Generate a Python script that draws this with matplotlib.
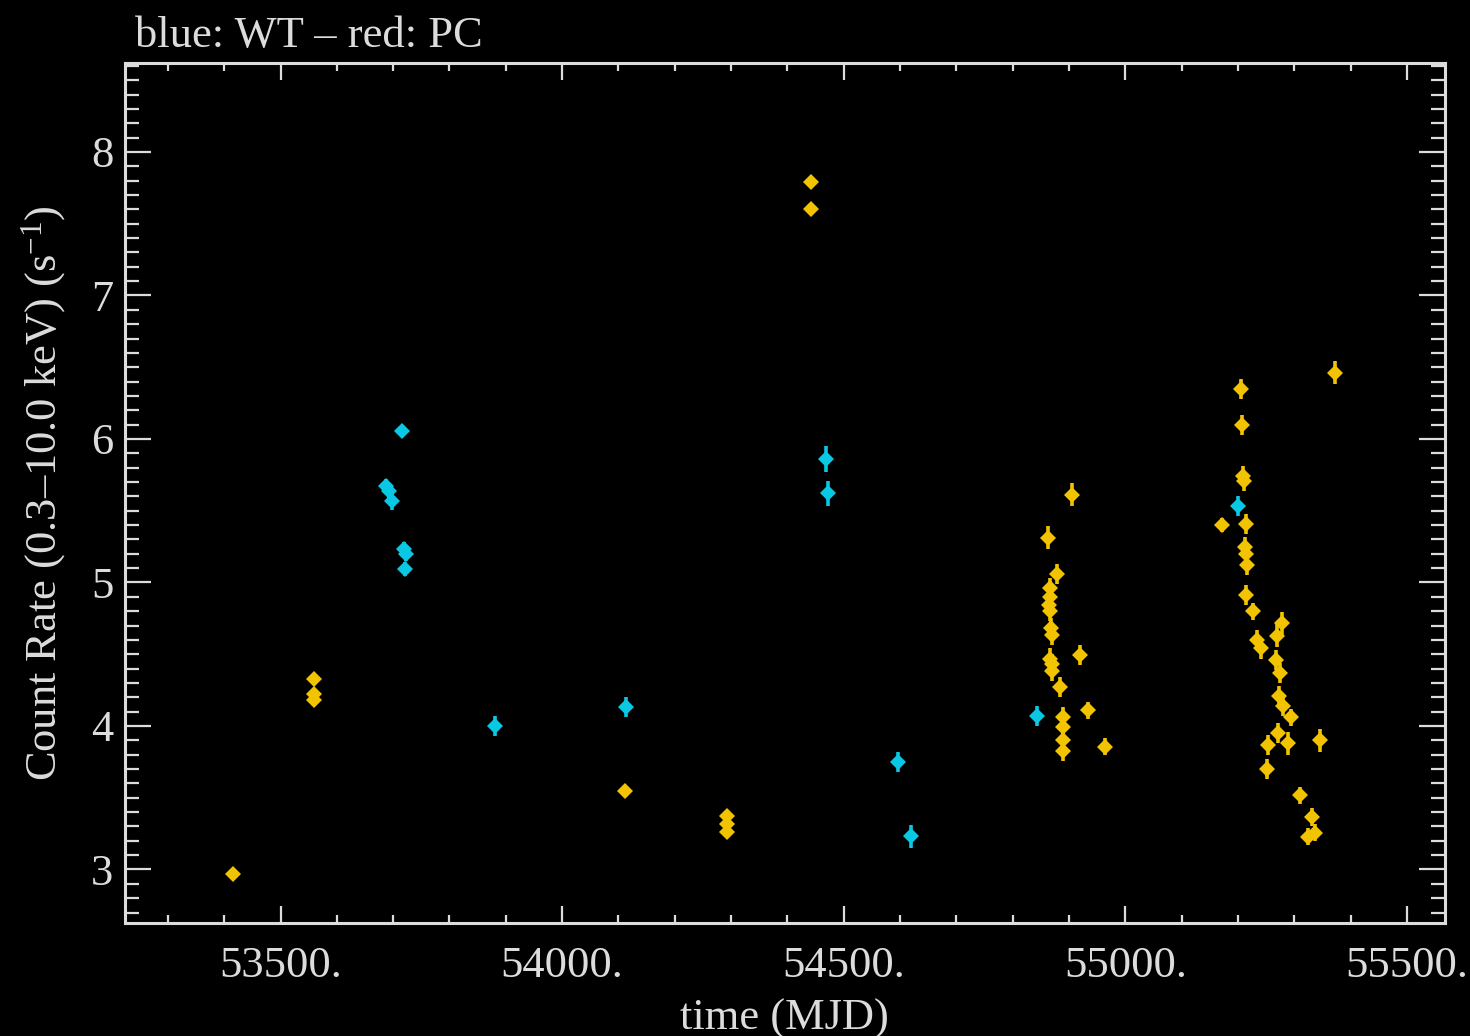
import matplotlib
matplotlib.use("Agg")
import matplotlib.pyplot as plt
from matplotlib.ticker import MultipleLocator, FuncFormatter

# ---- data ----
wt_time = [53688, 53692, 53698, 53715, 53719, 53722, 53721, 53881, 54113,
           54469, 54472, 54596, 54619, 54844, 55200]
wt_rate = [5.67, 5.64, 5.565, 6.058, 5.23, 5.20, 5.093, 4.00, 4.135,
           5.86, 5.62, 3.75, 3.23, 4.07, 5.53]
wt_err = [0.05, 0.05, 0.06, 0.04, 0.05, 0.05, 0.05, 0.07, 0.07,
          0.09, 0.09, 0.07, 0.08, 0.07, 0.07]

pc_time = [53415, 53560, 53560, 53560, 54112, 54292, 54292, 54292, 54442, 54442,
           54906, 54863, 54878, 54866, 54866, 54865, 54866, 54868, 54870,
           54866, 54870, 54870, 54884, 54919, 54890, 54889, 54889, 54889,
           54933, 54964,
           55372, 55206, 55207, 55209, 55210, 55171, 55215, 55213, 55214, 55216,
           55215, 55227, 55278, 55270, 55234, 55241, 55268, 55274, 55273, 55280,
           55295, 55271, 55289, 55346, 55254, 55251, 55311, 55332, 55337, 55324]
pc_rate = [2.97, 4.33, 4.22, 4.18, 3.55, 3.375, 3.32, 3.26, 7.79, 7.60,
           5.61, 5.31, 5.06, 4.96, 4.90, 4.84, 4.80, 4.68, 4.634,
           4.47, 4.43, 4.38, 4.27, 4.495, 4.06, 3.99, 3.905, 3.824,
           4.11, 3.855,
           6.46, 6.35, 6.10, 5.745, 5.71, 5.40, 5.41, 5.25, 5.20, 5.12,
           4.912, 4.80, 4.715, 4.63, 4.60, 4.54, 4.46, 4.37, 4.21, 4.14,
           4.06, 3.95, 3.88, 3.90, 3.87, 3.70, 3.516, 3.366, 3.257, 3.227]
pc_err = [0.02, 0.04, 0.04, 0.04, 0.02, 0.04, 0.04, 0.04, 0.03, 0.03,
          0.08, 0.08, 0.07, 0.07, 0.07, 0.07, 0.07, 0.07, 0.07,
          0.07, 0.07, 0.07, 0.07, 0.07, 0.07, 0.07, 0.07, 0.07,
          0.06, 0.06,
          0.08, 0.07, 0.07, 0.07, 0.07, 0.05, 0.07, 0.07, 0.07, 0.07,
          0.07, 0.06, 0.08, 0.08, 0.07, 0.07, 0.07, 0.07, 0.07, 0.07,
          0.06, 0.07, 0.08, 0.08, 0.07, 0.07, 0.06, 0.06, 0.06, 0.06]

title_text = "blue: WT \u2013 red: PC"
xlabel_text = "time (MJD)"
ylabel_text = "Count Rate (0.3\u201310.0 keV) (s$^{-1}$)"

# ---- style ----
fg = "#dcdcdc"
cyan = "#08c8e4"
gold = "#f2c300"
plt.rcParams["font.family"] = ["Liberation Serif", "DejaVu Serif"]
plt.rcParams["mathtext.fontset"] = "custom"
plt.rcParams["mathtext.rm"] = "Liberation Serif"
plt.rcParams["mathtext.it"] = "Liberation Serif"

fig = plt.figure(figsize=(14.7, 10.36), dpi=100, facecolor="black")
ax = fig.add_axes([0.0847, 0.1095, 0.898, 0.8297], facecolor="black")

ax.errorbar(wt_time, wt_rate, yerr=wt_err, fmt="D", ms=7.8, mew=0,
            color=cyan, ecolor=cyan, elinewidth=2.6, capsize=0, zorder=3)
ax.errorbar(pc_time, pc_rate, yerr=pc_err, fmt="D", ms=7.8, mew=0,
            color=gold, ecolor=gold, elinewidth=2.6, capsize=0, zorder=3)

ax.set_xlim(53223, 55567)
ax.set_ylim(2.63, 8.62)

ax.xaxis.set_major_locator(MultipleLocator(500))
ax.xaxis.set_minor_locator(MultipleLocator(100))
ax.yaxis.set_major_locator(MultipleLocator(1))
ax.yaxis.set_minor_locator(MultipleLocator(0.1))
ax.xaxis.set_major_formatter(FuncFormatter(lambda v, p: f"{v:.0f}."))
ax.yaxis.set_major_formatter(FuncFormatter(lambda v, p: f"{v:.0f}"))

for s in ax.spines.values():
    s.set_color(fg)
    s.set_linewidth(2.2)

ax.tick_params(which="both", direction="in", top=True, right=True,
               colors=fg, labelcolor=fg, labelsize=32, width=1.6)
ax.xaxis.set_tick_params(which="major", length=12.5, pad=17)
ax.xaxis.set_tick_params(which="minor", length=6)
ax.yaxis.set_tick_params(which="major", length=19, pad=8)
ax.yaxis.set_tick_params(which="minor", length=10)

ax.set_xlabel(xlabel_text, color=fg, fontsize=32)
ax.xaxis.set_label_coords(0.5, -0.088)
ax.set_ylabel(ylabel_text, color=fg, fontsize=32)
ax.yaxis.set_label_coords(-0.043, 0.5)

fig.text(0.092, 1 - 47 / 1036, title_text, color=fg, fontsize=32,
         ha="left", va="baseline")

fig.savefig("out.png", dpi=100, facecolor="black")
